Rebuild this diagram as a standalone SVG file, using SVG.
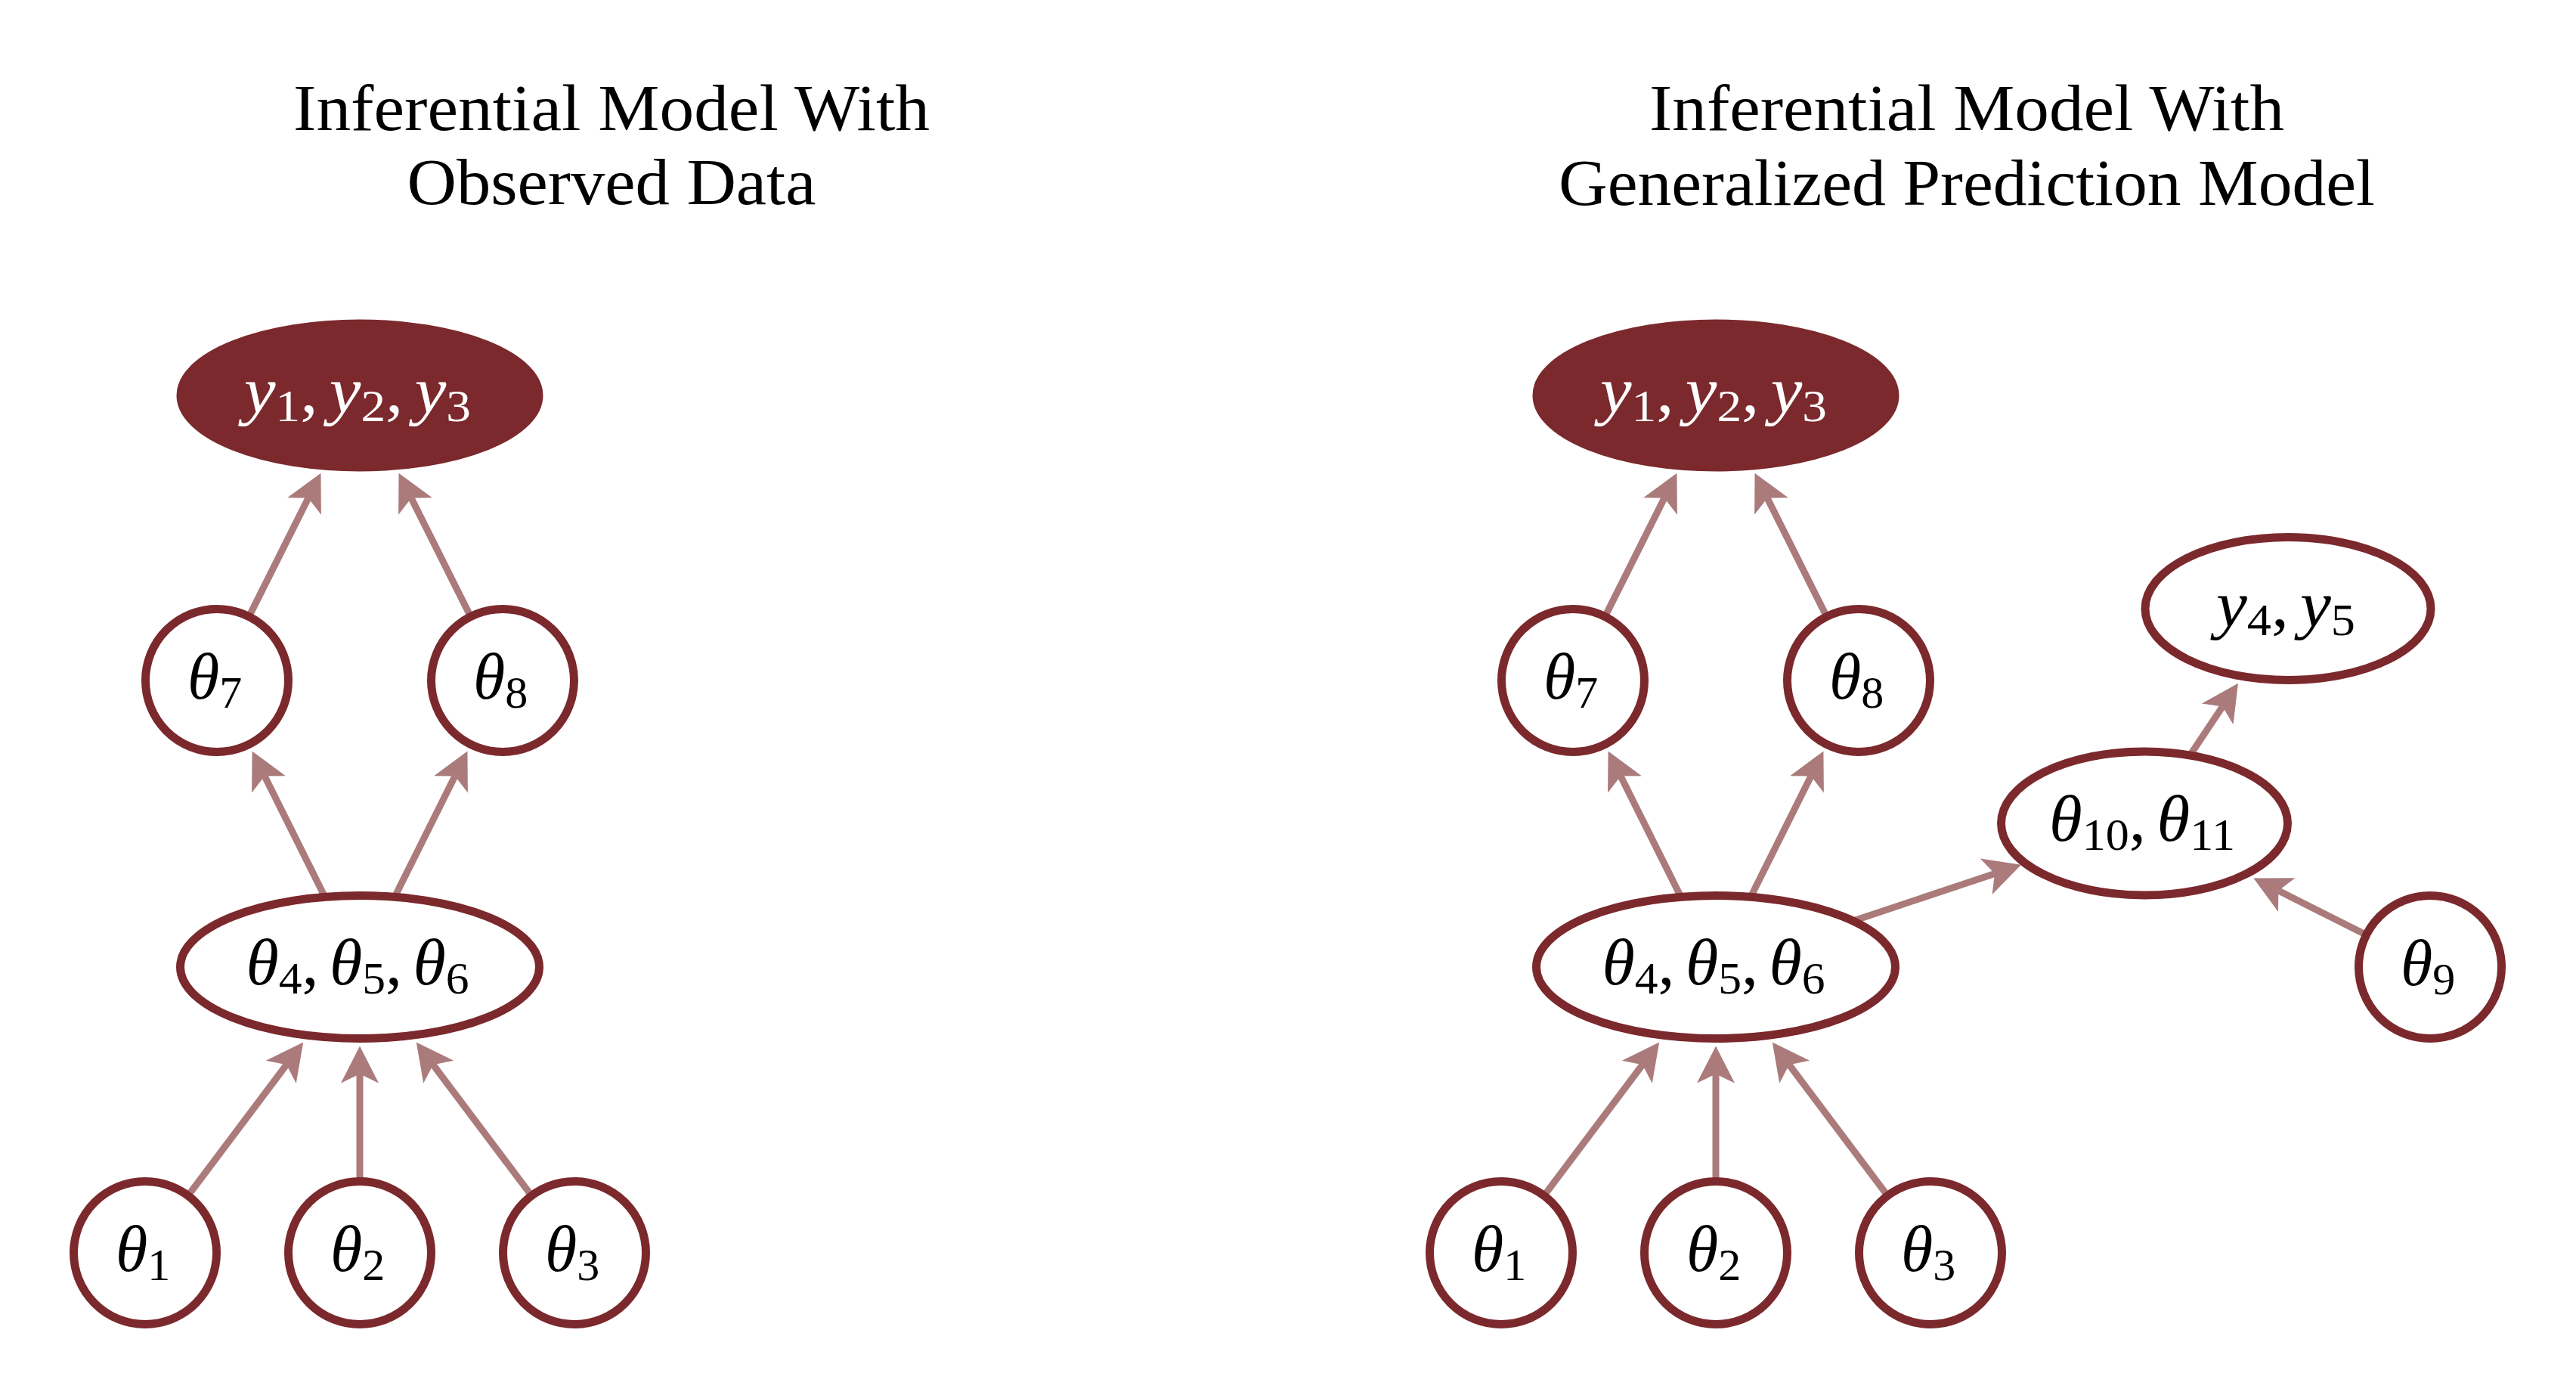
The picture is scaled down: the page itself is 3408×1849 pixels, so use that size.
<svg xmlns="http://www.w3.org/2000/svg" width="3408" height="1849" viewBox="0 0 3408 1849">
<style>
.title{font-family:"Liberation Serif","Times New Roman",serif;font-size:87px;fill:#000;text-anchor:middle}
.node{fill:#fff;stroke:#7b292c;stroke-width:11}
.obs{fill:#7b292c;stroke:#7b292c;stroke-width:11}
.m{font-family:"Liberation Serif","Times New Roman",serif;font-size:86px;text-anchor:middle;fill:#000}
.w{fill:#fff}
.i{font-style:italic}
.s{font-size:60px}
.edge{stroke:#ab7b7b;stroke-width:9;fill:none;marker-end:url(#ah)}
</style>
<defs>
<marker id="ah" markerUnits="userSpaceOnUse" markerWidth="60" markerHeight="60" viewBox="-15 -30 60 60" refX="0" refY="0" orient="auto">
<path d="M37,0 L-12,-25 L0,0 L-12,25 Z" fill="#ab7b7b"/>
</marker>
</defs>
<rect x="0" y="0" width="3408" height="1849" fill="#fff"/>

<g id="titles">
<text class="title" x="809" y="172" textLength="842" lengthAdjust="spacingAndGlyphs">Inferential Model With</text>
<text class="title" x="809" y="270" textLength="541" lengthAdjust="spacingAndGlyphs">Observed Data</text>
<text class="title" x="2602" y="172" textLength="840" lengthAdjust="spacingAndGlyphs">Inferential Model With</text>
<text class="title" x="2602" y="271" textLength="1080" lengthAdjust="spacingAndGlyphs">Generalized Prediction Model</text>
</g>

<g id="connectors">
<line class="edge" x1="329.4" y1="815.5" x2="407.9" y2="658.8"/>
<line class="edge" x1="622.6" y1="815.5" x2="544.1" y2="658.8"/>
<line class="edge" x1="429.8" y1="1186.3" x2="350.1" y2="1026.6"/>
<line class="edge" x1="522.2" y1="1186.3" x2="601.9" y2="1026.6"/>
<line class="edge" x1="248.8" y1="1581.4" x2="379.0" y2="1408.2"/>
<line class="edge" x1="476" y1="1562.5" x2="476" y2="1420.5"/>
<line class="edge" x1="703.2" y1="1581.4" x2="573.0" y2="1408.2"/>

<line class="edge" x1="2123.4" y1="815.5" x2="2201.9" y2="658.8"/>
<line class="edge" x1="2416.6" y1="815.5" x2="2338.1" y2="658.8"/>
<line class="edge" x1="2223.8" y1="1186.3" x2="2144.1" y2="1026.6"/>
<line class="edge" x1="2316.2" y1="1186.3" x2="2395.9" y2="1026.6"/>
<line class="edge" x1="2042.8" y1="1581.4" x2="2173.0" y2="1408.2"/>
<line class="edge" x1="2270" y1="1562.5" x2="2270" y2="1420.5"/>
<line class="edge" x1="2497.2" y1="1581.4" x2="2367.0" y2="1408.2"/>
<line class="edge" x1="2451.7" y1="1218.1" x2="2639" y2="1155.4"/>
<line class="edge" x1="2897.3" y1="998.9" x2="2940.4" y2="934.4"/>
<line class="edge" x1="3130.6" y1="1236.6" x2="3014.4" y2="1178.1"/>
</g>

<!-- Left panel -->
<g id="L-y123">
<ellipse class="obs" cx="476" cy="523" rx="237" ry="95"/>
<text class="m w" x="473" y="545" textLength="300" lengthAdjust="spacingAndGlyphs"><tspan class="i">y</tspan><tspan class="s" dy="12">1</tspan><tspan dy="-12">,</tspan><tspan class="i" dx="14">y</tspan><tspan class="s" dy="12">2</tspan><tspan dy="-12">,</tspan><tspan class="i" dx="14">y</tspan><tspan class="s" dy="12">3</tspan></text>
</g>
<g id="L-theta7">
<circle class="node" cx="287" cy="900" r="94.5"/>
<text class="m" x="284" y="924"><tspan class="i">θ</tspan><tspan class="s" dy="12">7</tspan></text>
</g>
<g id="L-theta8">
<circle class="node" cx="665" cy="900" r="94.5"/>
<text class="m" x="662" y="924"><tspan class="i">θ</tspan><tspan class="s" dy="12">8</tspan></text>
</g>
<g id="L-theta456">
<ellipse class="node" cx="476" cy="1279" rx="237.5" ry="94.5"/>
<text class="m" x="473" y="1302" textLength="295" lengthAdjust="spacingAndGlyphs"><tspan class="i">θ</tspan><tspan class="s" dy="12">4</tspan><tspan dy="-12">,</tspan><tspan class="i" dx="14">θ</tspan><tspan class="s" dy="12">5</tspan><tspan dy="-12">,</tspan><tspan class="i" dx="14">θ</tspan><tspan class="s" dy="12">6</tspan></text>
</g>
<g id="L-theta1">
<circle class="node" cx="192" cy="1657" r="94.5"/>
<text class="m" x="189" y="1681"><tspan class="i">θ</tspan><tspan class="s" dy="12">1</tspan></text>
</g>
<g id="L-theta2">
<circle class="node" cx="476" cy="1657" r="94.5"/>
<text class="m" x="473" y="1681"><tspan class="i">θ</tspan><tspan class="s" dy="12">2</tspan></text>
</g>
<g id="L-theta3">
<circle class="node" cx="760" cy="1657" r="94.5"/>
<text class="m" x="757" y="1681"><tspan class="i">θ</tspan><tspan class="s" dy="12">3</tspan></text>
</g>

<!-- Right panel -->
<g id="R-y123">
<ellipse class="obs" cx="2270" cy="523" rx="237" ry="95"/>
<text class="m w" x="2267" y="545" textLength="300" lengthAdjust="spacingAndGlyphs"><tspan class="i">y</tspan><tspan class="s" dy="12">1</tspan><tspan dy="-12">,</tspan><tspan class="i" dx="14">y</tspan><tspan class="s" dy="12">2</tspan><tspan dy="-12">,</tspan><tspan class="i" dx="14">y</tspan><tspan class="s" dy="12">3</tspan></text>
</g>
<g id="R-theta7">
<circle class="node" cx="2081" cy="900" r="94.5"/>
<text class="m" x="2078" y="924"><tspan class="i">θ</tspan><tspan class="s" dy="12">7</tspan></text>
</g>
<g id="R-theta8">
<circle class="node" cx="2459" cy="900" r="94.5"/>
<text class="m" x="2456" y="924"><tspan class="i">θ</tspan><tspan class="s" dy="12">8</tspan></text>
</g>
<g id="R-theta456">
<ellipse class="node" cx="2270" cy="1279" rx="237.5" ry="94.5"/>
<text class="m" x="2267" y="1302" textLength="295" lengthAdjust="spacingAndGlyphs"><tspan class="i">θ</tspan><tspan class="s" dy="12">4</tspan><tspan dy="-12">,</tspan><tspan class="i" dx="14">θ</tspan><tspan class="s" dy="12">5</tspan><tspan dy="-12">,</tspan><tspan class="i" dx="14">θ</tspan><tspan class="s" dy="12">6</tspan></text>
</g>
<g id="R-theta1">
<circle class="node" cx="1986" cy="1657" r="94.5"/>
<text class="m" x="1983" y="1681"><tspan class="i">θ</tspan><tspan class="s" dy="12">1</tspan></text>
</g>
<g id="R-theta2">
<circle class="node" cx="2270" cy="1657" r="94.5"/>
<text class="m" x="2267" y="1681"><tspan class="i">θ</tspan><tspan class="s" dy="12">2</tspan></text>
</g>
<g id="R-theta3">
<circle class="node" cx="2554" cy="1657" r="94.5"/>
<text class="m" x="2551" y="1681"><tspan class="i">θ</tspan><tspan class="s" dy="12">3</tspan></text>
</g>
<g id="R-y45">
<ellipse class="node" cx="3027" cy="805" rx="189" ry="94.5"/>
<text class="m" x="3024" y="828" textLength="184" lengthAdjust="spacingAndGlyphs"><tspan class="i">y</tspan><tspan class="s" dy="12">4</tspan><tspan dy="-12">,</tspan><tspan class="i" dx="14">y</tspan><tspan class="s" dy="12">5</tspan></text>
</g>
<g id="R-theta1011">
<ellipse class="node" cx="2837" cy="1089" rx="189.5" ry="95"/>
<text class="m" x="2834" y="1112" textLength="246" lengthAdjust="spacingAndGlyphs"><tspan class="i">θ</tspan><tspan class="s" dy="12">10</tspan><tspan dy="-12">,</tspan><tspan class="i" dx="14">θ</tspan><tspan class="s" dy="12">11</tspan></text>
</g>
<g id="R-theta9">
<circle class="node" cx="3215" cy="1279" r="94.5"/>
<text class="m" x="3212" y="1303"><tspan class="i">θ</tspan><tspan class="s" dy="12">9</tspan></text>
</g>
</svg>
